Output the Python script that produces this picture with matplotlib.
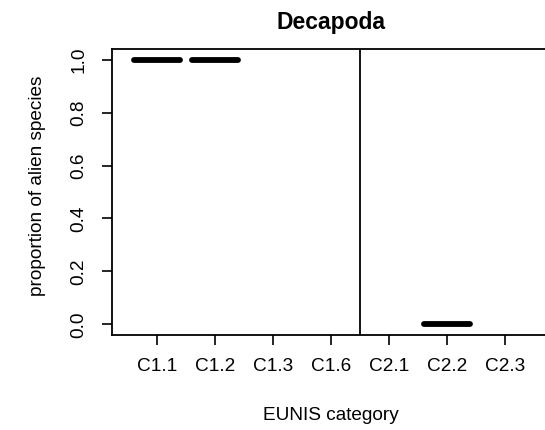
import matplotlib.pyplot as plt

# datos
categorias = ["C1.1", "C1.2", "C1.3", "C1.6", "C2.1", "C2.2", "C2.3"]
posiciones = [1, 2, 3, 4, 5, 6, 7]
medianas = [1.0, 1.0, None, None, None, 0.0, None]
separador = 4.5

plt.rcParams['font.family'] = ['Liberation Sans', 'DejaVu Sans']

fig = plt.figure(figsize=(5.45, 4.30), dpi=100)
W, H = 545, 430
# el area de trazado termina justo pasado el borde derecho
x0, x1 = 112, 550
y0, y1 = 335, 49
ax = fig.add_axes([x0 / W, 1 - y0 / H, (x1 - x0) / W, (y0 - y1) / H])

paso = 58.0
xmin = 1 - (157 - x0) / paso
xmax = 1 + (x1 - 157) / paso
ax.set_xlim(xmin, xmax)
ax.set_ylim(-0.04, 1.04)

ancho = 0.8
for p, m in zip(posiciones, medianas):
    if m is None:
        continue
    ax.plot([p - ancho / 2, p + ancho / 2], [m, m], color="black", lw=4.2,
            solid_capstyle="round", clip_on=False)

ax.axvline(separador, color="black", lw=1.3)

for s in ax.spines.values():
    s.set_linewidth(1.3)

ax.set_xticks(posiciones)
ax.set_xticklabels(categorias)
ax.set_yticks([0.0, 0.2, 0.4, 0.6, 0.8, 1.0])
ax.set_yticklabels(["0.0", "0.2", "0.4", "0.6", "0.8", "1.0"], rotation=90, va="center")
ax.tick_params(axis="both", length=7.5, width=1.2, labelsize=13.7, colors="black")
ax.tick_params(axis="x", pad=9)
ax.tick_params(axis="y", pad=10)

fig.text(331 / W, 1 - 22 / H, "Decapoda", ha="center", va="center",
         fontsize=16.5, fontweight="bold")
fig.text(331 / W, 1 - 415 / H, "EUNIS category", ha="center", va="center", fontsize=13.7)
fig.text(38 / W, 1 - 186 / H, "proportion of alien species", ha="center", va="center",
         rotation=90, fontsize=13.7)

fig.savefig("out.png", dpi=100)
